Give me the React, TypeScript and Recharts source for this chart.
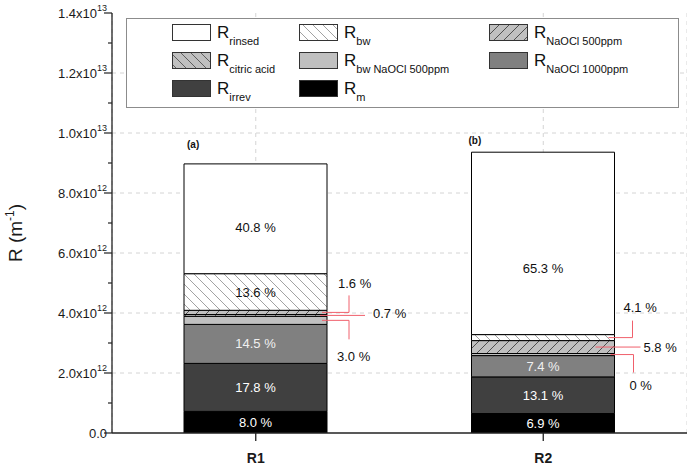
import React from 'react';
import { BarChart, Bar, XAxis, YAxis, CartesianGrid, Legend, LabelList } from 'recharts';

const FONT = '"Liberation Sans", Arial, Helvetica, sans-serif';

// ---------- data ----------
const categories = ['R1', 'R2'];
const panelLabels = ['(a)', '(b)'];

// stack order bottom -> top ; values in units of 1e12 m^-1
const seriesKeys = ['m', 'irrev', 'naocl1000', 'bwNaocl500', 'citric', 'naocl500', 'bw', 'rinsed'];
const seriesSubscripts = ['m', 'irrev', 'NaOCl 1000ppm', 'bw NaOCl 500ppm', 'citric acid', 'NaOCl 500ppm', 'bw', 'rinsed'];
const valuesR1 = [0.72, 1.6, 1.3, 0.27, 0.06, 0.14, 1.22, 3.66];
const valuesR2 = [0.65, 1.22, 0.71, 0.07, 0, 0.43, 0.2, 6.08];
const percentR1 = ['8.0 %', '17.8 %', '14.5 %', '3.0 %', '0.7 %', '1.6 %', '13.6 %', '40.8 %'];
const percentR2 = ['6.9 %', '13.1 %', '7.4 %', '0 %', '', '5.8 %', '4.1 %', '65.3 %'];
const legendOrder = ['rinsed', 'bw', 'naocl500', 'citric', 'bwNaocl500', 'naocl1000', 'irrev', 'm'];

const yAllTicks = [0, 1, 2, 3, 4, 5, 6, 7, 8, 9, 10, 11, 12, 13, 14];
const yMajorTicks = [0, 2, 4, 6, 8, 10, 12, 14];
const yMajorLabels = ['0.0', '2.0x10', '4.0x10', '6.0x10', '8.0x10', '1.0x10', '1.2x10', '1.4x10'];
const yMajorExponents = ['', '12', '12', '12', '12', '13', '13', '13'];
const gridValues = [2, 4, 6, 8, 10, 12];

const valuesByCategory = [valuesR1, valuesR2];
const percentByCategory = [percentR1, percentR2];

const tableData = categories.map((cat, ci) => {
  const row: Record<string, any> = { name: cat };
  seriesKeys.forEach((k, si) => {
    row[k] = valuesByCategory[ci][si];
    row[k + '_lbl'] = `${ci}|${si}`;
  });
  return row;
});

// ---------- styles ----------
const fills: Record<string, string> = {
  m: '#000000',
  irrev: '#404040',
  naocl1000: '#808080',
  bwNaocl500: '#c0c0c0',
  citric: 'url(#hatchCitric)',
  naocl500: 'url(#hatchNaocl500)',
  bw: 'url(#hatchBw)',
  rinsed: '#ffffff',
};
const insideColors: Record<string, string> = {
  m: '#ffffff',
  irrev: '#ffffff',
  naocl1000: '#f0f0f0',
  bwNaocl500: '#000',
  citric: '#000',
  naocl500: '#000',
  bw: '#111',
  rinsed: '#111',
};
const insideDy: Record<string, number> = { '0|7': 9, '1|7': 25 };
const callouts: Record<string, { start: number; bend: number; vEnd: number; tx: number; ty: number }> = {
  '0|5': { start: -5, bend: 22, vEnd: -17, tx: 11, ty: -29 },
  '0|4': { start: -7, bend: 38, vEnd: 0, tx: 46, ty: -2 },
  '0|3': { start: -5, bend: 22, vEnd: 19, tx: 10, ty: 36 },
  '1|6': { start: -6, bend: 18, vEnd: -17, tx: 9, ty: -30 },
  '1|5': { start: -19, bend: 26, vEnd: 0, tx: 29, ty: 0 },
  '1|3': { start: -4, bend: 19, vEnd: 18, tx: 15, ty: 31 },
};
const panelOffsets = [
  { dx: 3, dy: -19 },
  { dx: -3, dy: -12 },
];
const CALLOUT_RED = '#f0606c';

const renderSegLabel = (props: any) => {
  const val = String(props.value ?? '');
  if (!val.includes('|')) return null;
  const [ciS, siS] = val.split('|');
  const ci = Number(ciS);
  const si = Number(siS);
  const vb = props.viewBox && props.viewBox.width != null ? props.viewBox : props;
  const x = Number(vb.x);
  const y0 = Number(vb.y);
  const w = Number(vb.width);
  const h0 = Number(vb.height);
  const top = Math.min(y0, y0 + h0);
  const h = Math.abs(h0);
  const key = seriesKeys[si];
  const text = percentByCategory[ci][si];
  const out: React.ReactNode[] = [];
  if (text) {
    const co = callouts[val];
    if (co) {
      const right = x + w;
      const cy = top + h / 2;
      out.push(
        <path
          key="l"
          d={`M${right + co.start},${cy} H${right + co.bend} V${cy + co.vEnd}`}
          fill="none"
          stroke={CALLOUT_RED}
          strokeWidth={1}
        />
      );
      out.push(
        <text key="t" x={right + co.tx} y={cy + co.ty} dy="0.35em" fontSize={13} fontFamily={FONT} fill="#111">
          {text}
        </text>
      );
    } else {
      out.push(
        <text
          key="t"
          x={x + w / 2}
          y={top + h / 2 + (insideDy[val] ?? 0)}
          dy="0.35em"
          textAnchor="middle"
          fontSize={13}
          fontFamily={FONT}
          fill={insideColors[key]}
        >
          {text}
        </text>
      );
    }
  }
  if (key === 'rinsed') {
    const po = panelOffsets[ci];
    out.push(
      <text key="p" x={x + po.dx} y={top + po.dy} dy="0.35em" fontSize={10} fontWeight="bold" fontFamily={FONT} fill="#111">
        {panelLabels[ci]}
      </text>
    );
  }
  return <g>{out}</g>;
};

const YTick = (props: any) => {
  const { x, y, payload } = props;
  const v = payload.value;
  const mi = yMajorTicks.indexOf(v);
  if (mi < 0) {
    return <line x1={x - 4} x2={x} y1={y} y2={y} stroke="#222" strokeWidth={1.2} />;
  }
  const exp = yMajorExponents[mi];
  return (
    <g>
      <line x1={x - 8} x2={x} y1={y} y2={y} stroke="#222" strokeWidth={1.2} />
      <text x={x - 5} y={y + 5} textAnchor="end" fontSize={13} fontFamily={FONT} fill="#1a1a1a">
        {yMajorLabels[mi]}
        {exp ? (
          <tspan dy={-7} fontSize={9}>
            {exp}
          </tspan>
        ) : null}
      </text>
    </g>
  );
};

const XTick = (props: any) => {
  const { x, y, payload } = props;
  return (
    <text x={x} y={y + 20} textAnchor="middle" fontSize={14} fontWeight="bold" fontFamily={FONT} fill="#1a1a1a">
      {payload.value}
    </text>
  );
};

const YTitle = (props: any) => {
  const vb = props.viewBox || { x: 0, y: 13, width: 112, height: 420 };
  const cx = 22;
  const cy = vb.y + vb.height / 2 + 10;
  return (
    <text x={cx} y={cy} textAnchor="middle" fontSize={19} fontFamily={FONT} fill="#1a1a1a" transform={`rotate(-90, ${cx}, ${cy})`}>
      R (m
      <tspan dy={-8} fontSize={12}>
        -1
      </tspan>
      <tspan dy={8}>)</tspan>
    </text>
  );
};

const legendColX = [46, 173, 363];
const renderLegend = () => (
  <svg width={553} height={90} style={{ display: 'block' }}>
    <rect x={0.5} y={0.5} width={552} height={89} fill="#ffffff" stroke="#8c8c8c" strokeWidth={1} />
    {legendOrder.map((k, i) => {
      const col = i % 3;
      const row = Math.floor(i / 3);
      const sx = legendColX[col];
      const sy = 6 + row * 28;
      const si = seriesKeys.indexOf(k);
      return (
        <g key={k}>
          <rect x={sx + 0.5} y={sy + 0.5} width={38} height={16} fill={fills[k]} stroke="#333" strokeWidth={1} />
          <text x={sx + 45} y={sy + 14} fontSize={17} fontFamily={FONT} fill="#111">
            R
            <tspan dy={7} fontSize={11}>
              {seriesSubscripts[si]}
            </tspan>
          </text>
        </g>
      );
    })}
  </svg>
);

export default function App() {
  return (
    <div style={{ position: 'absolute', left: 0, top: 0, width: 687, height: 465, background: '#fff', fontFamily: FONT }}>
      <BarChart width={687} height={465} data={tableData} margin={{ top: 13, right: 0, bottom: 0, left: 0 }} barCategoryGap={0}>
        <defs>
          <pattern id="hatchBw" patternUnits="userSpaceOnUse" width={10} height={10}>
            <rect width={10} height={10} fill="#ffffff" />
            <path d="M0,0 L10,10 M-1,9 L1,11 M9,-1 L11,1" stroke="#8a8a8a" strokeWidth={0.8} />
          </pattern>
          <pattern id="hatchNaocl500" patternUnits="userSpaceOnUse" width={10} height={10}>
            <rect width={10} height={10} fill="#c0c0c0" />
            <path d="M0,10 L10,0 M-1,1 L1,-1 M9,11 L11,9" stroke="#333" strokeWidth={0.8} />
          </pattern>
          <pattern id="hatchCitric" patternUnits="userSpaceOnUse" width={10} height={10}>
            <rect width={10} height={10} fill="#c0c0c0" />
            <path d="M0,0 L10,10 M-1,9 L1,11 M9,-1 L11,1" stroke="#444" strokeWidth={0.8} />
          </pattern>
        </defs>
        <CartesianGrid strokeDasharray="4 4" stroke="#d4d4d4" horizontalValues={gridValues} />
        <XAxis
          dataKey="name"
          height={32}
          tickSize={8}
          tickMargin={2}
          tickLine={{ stroke: '#222', strokeWidth: 1.3 }}
          axisLine={{ stroke: '#222', strokeWidth: 1.3 }}
          tick={<XTick />}
          interval={0}
        />
        <XAxis xAxisId="top" dataKey="name" orientation="top" height={0} tick={false} tickLine={false} axisLine={{ stroke: '#222', strokeWidth: 1.3 }} />
        <YAxis
          type="number"
          domain={[0, 14]}
          ticks={yAllTicks}
          interval={0}
          width={112}
          tickSize={0}
          tickMargin={0}
          tickLine={false}
          axisLine={{ stroke: '#222', strokeWidth: 1.3 }}
          tick={<YTick />}
          label={{ content: YTitle }}
          allowDataOverflow
        />
        <Legend layout="vertical" align="center" verticalAlign="middle" content={renderLegend} wrapperStyle={{ left: 126, top: 18, width: 553, height: 90 }} />
        {seriesKeys.map((k) => (
          <Bar key={k} dataKey={k} stackId="a" fill={fills[k]} stroke="#000" strokeWidth={1} barSize={143} isAnimationActive={false}>
            <LabelList dataKey={k + '_lbl'} content={renderSegLabel} />
          </Bar>
        ))}
      </BarChart>
    </div>
  );
}
